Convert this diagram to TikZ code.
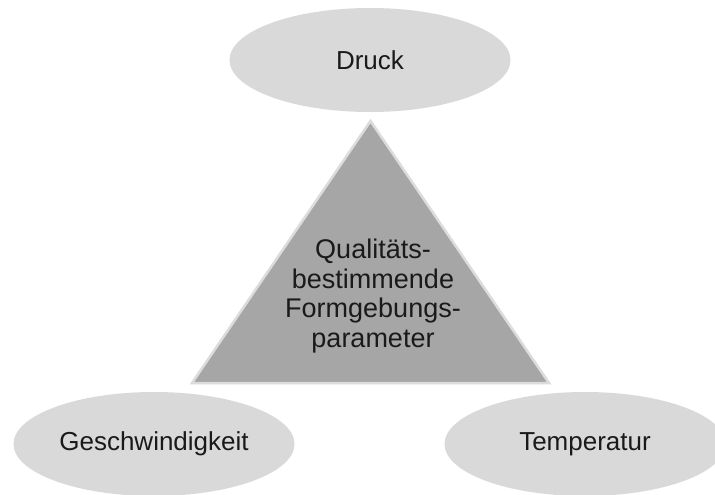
\documentclass[tikz,border=0pt]{standalone}
\usepackage{fontspec}
\setmainfont{Liberation Sans}
\usetikzlibrary{shapes.geometric}
\definecolor{ellgray}{HTML}{D9D9D9}
\definecolor{trigray}{HTML}{A6A6A6}
\definecolor{triedge}{HTML}{DCDCDC}
\definecolor{txt}{HTML}{1A1A1A}
\tikzset{
  oval/.style={ellipse, fill=ellgray, draw=none, minimum width=281pt, minimum height=104pt, inner sep=0pt, text=txt, font=\fontsize{26}{30}\selectfont},
  centertext/.style={align=center, text=txt, font=\fontsize{27}{29.5}\selectfont, inner sep=0pt},
  tri/.style={fill=trigray, draw=triedge, line width=2.5pt, line join=miter}
}
\begin{document}
\begin{tikzpicture}[x=1pt,y=-1pt]
\useasboundingbox (0,0) rectangle (715,495);
\clip (0,0) rectangle (715,495);
\fill[white] (0,0) rectangle (715,495);
\node[oval] (druck) at (370,60) {Druck};
\node[oval] (gesch) at (154,444) {Geschwindigkeit};
\node[oval] (temp) at (585,444) {Temperatur};
\coordinate (apex) at (370.5,121);
\coordinate (bl) at (192,383);
\coordinate (br) at (549,383);
\draw[tri] (apex) -- (br) -- (bl) -- cycle;
\node[centertext] (param) at (373,296) {Qualitäts-\\bestimmende\\Formgebungs-\\parameter};
\end{tikzpicture}
\end{document}
